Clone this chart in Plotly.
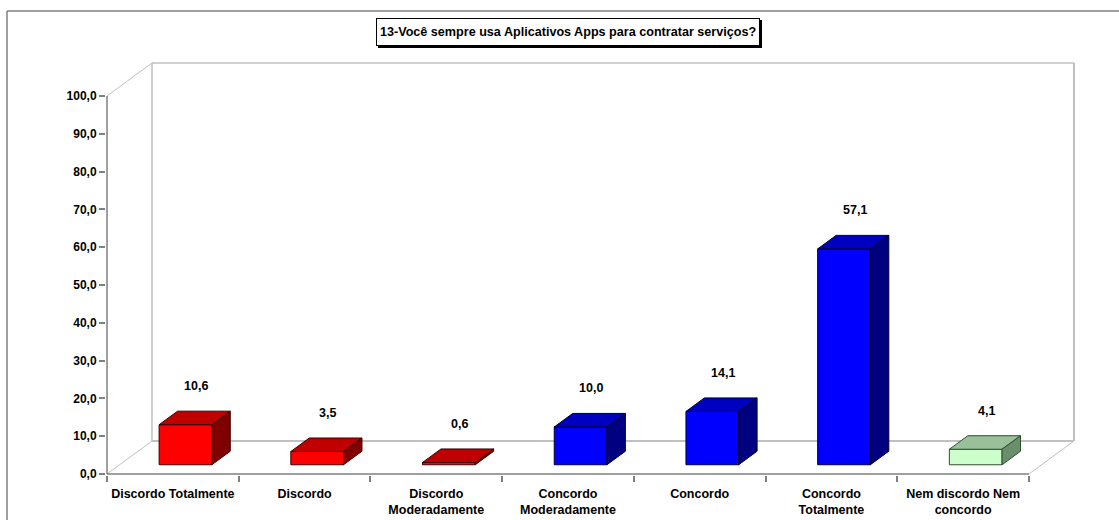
import plotly.graph_objects as go

# ---- data -------------------------------------------------------------
categories = [
    "Discordo Totalmente",
    "Discordo",
    "Discordo<br>Moderadamente",
    "Concordo<br>Moderadamente",
    "Concordo",
    "Concordo<br>Totalmente",
    "Nem discordo Nem<br>concordo",
]
values = [10.6, 3.5, 0.6, 10.0, 14.1, 57.1, 4.1]
groups = ["disc", "disc", "disc", "conc", "conc", "conc", "neutral"]
y_ticks = [0, 10, 20, 30, 40, 50, 60, 70, 80, 90, 100]
title_text = "13-Você sempre usa Aplicativos Apps para contratar serviços?"

# face colours: front, top, side
palette = {
    "disc": ("#FF0000", "#C00000", "#800000"),
    "conc": ("#0000FF", "#0000C0", "#000080"),
    "neutral": ("#CCFFCC", "#99C099", "#6A8F6A"),
}
edge_colors = {"disc": "#3a0000", "conc": "#000030", "neutral": "#2f4f2f"}

# ---- geometry (pixels -> data units) -----------------------------------
W, H = 1119, 520
X0_PX = 107            # pixel of x = -0.5
PX_PER_CAT = 131.71
Y0_PX = 474            # pixel of y = 0
PX_PER_UNIT = 3.78

ML, MR_PX = 106, 1078  # plot area left / right pixel
MT, MB_PX = 56, 475    # plot area top / bottom pixel

x_lo = -0.5 - (X0_PX - ML) / PX_PER_CAT
x_hi = -0.5 + (MR_PX - X0_PX) / PX_PER_CAT
y_lo = -(MB_PX - Y0_PX) / PX_PER_UNIT
y_hi = (Y0_PX - MT) / PX_PER_UNIT

DX = 45 / PX_PER_CAT   # depth offset of the back wall
DY = 33 / PX_PER_UNIT
Z0, Z1 = 0.28, 0.69    # bar front / back depth fraction
HALF = 0.2             # half bar width

PW = MR_PX - ML
PH = MB_PX - MT


def px_to_paper_x(px):
    return (px - ML) / PW


def px_to_paper_y(py):
    return (MB_PX - py) / PH


fig = go.Figure()

# ---- 3D bars -----------------------------------------------------------
label_x, label_y, label_txt = [], [], []
for i, (v, g) in enumerate(zip(values, groups)):
    front_c, top_c, side_c = palette[g]
    xl = i - HALF + Z0 * DX
    xr = i + HALF + Z0 * DX
    yb = Z0 * DY
    yt = yb + v
    ddx = (Z1 - Z0) * DX
    ddy = (Z1 - Z0) * DY
    faces = [
        ([xl, xr, xr, xl, xl], [yb, yb, yt, yt, yb], front_c),
        ([xl, xr, xr + ddx, xl + ddx, xl], [yt, yt, yt + ddy, yt + ddy, yt], top_c),
        ([xr, xr + ddx, xr + ddx, xr, xr], [yb, yb + ddy, yt + ddy, yt, yb], side_c),
    ]
    for fx, fy, col in faces:
        fig.add_trace(go.Scatter(
            x=fx, y=fy, mode="lines", fill="toself", fillcolor=col,
            line=dict(color=edge_colors[g], width=1),
            hoverinfo="skip", showlegend=False,
        ))
    label_x.append(i + (Z0 + Z1) / 2 * DX + 0.01)
    label_y.append(yt + ddy)
    label_txt.append(f"{v:.1f}".replace(".", ","))

# empty trace that binds the boundary-tick axis
fig.add_trace(go.Scatter(x=[None], y=[None], xaxis="x2", showlegend=False, hoverinfo="skip"))

annotations = []
for lx, ly, lt in zip(label_x, label_y, label_txt):
    annotations.append(dict(
        x=lx, y=ly, xref="x", yref="y", text=lt, showarrow=False,
        yanchor="middle", yshift=25,
        font=dict(family="Liberation Sans, Arial", size=12.5, color="#000000", weight="bold"),
    ))

# title box with drop shadow
tx, ty = px_to_paper_x(568), px_to_paper_y(32)
for shadow in (True, False):
    annotations.append(dict(
        x=tx, y=ty, xref="paper", yref="paper", text=title_text, showarrow=False,
        xanchor="center", yanchor="middle", height=20,
        xshift=2 if shadow else 0, yshift=-2 if shadow else 0,
        bgcolor="#000000" if shadow else "#FFFFFF",
        bordercolor="#000000", borderwidth=1, borderpad=3,
        font=dict(family="Liberation Sans, Arial", size=12.6,
                  color="#000000", weight="bold"),
    ))

# ---- frame: walls, floor and axes -----------------------------------
shapes = []
wall = "#C0C0C0"
axis_c = "#808080"


def seg(x0, y0, x1, y1, color, width=1):
    shapes.append(dict(type="line", xref="x", yref="y", x0=x0, y0=y0, x1=x1, y1=y1,
                       line=dict(color=color, width=width), layer="below"))


bx0, bx1 = -0.5 + DX, 6.5 + DX
seg(bx0, DY, bx0, 100 + DY, wall, 1.5)
seg(bx0, 100 + DY, bx1, 100 + DY, wall, 1.5)
seg(bx1, 100 + DY, bx1, DY, wall, 2)
seg(bx0, DY, bx1, DY, wall, 2)
seg(-0.5, 0, bx0, DY, wall, 1)
seg(-0.5, 100, bx0, 100 + DY, wall, 1)
seg(6.5, 0, bx1, DY, wall, 1)
seg(-0.5, 0, -0.5, 100, axis_c, 1.5)
seg(-0.5, 0, 6.5, 0, axis_c, 1.5)

# outer chart border (top and left edges)
shapes.append(dict(type="line", xref="paper", yref="paper",
                   x0=px_to_paper_x(7), y0=px_to_paper_y(11),
                   x1=px_to_paper_x(W + 5), y1=px_to_paper_y(11),
                   line=dict(color="#7F7F7F", width=1.5)))
shapes.append(dict(type="line", xref="paper", yref="paper",
                   x0=px_to_paper_x(7), y0=px_to_paper_y(11),
                   x1=px_to_paper_x(7), y1=px_to_paper_y(H + 5),
                   line=dict(color="#7F7F7F", width=1.5)))

y_tick_font = dict(family="Liberation Sans, Arial", size=12, color="#000000", weight="bold")
x_tick_font = dict(family="Liberation Sans, Arial", size=12.5, color="#000000", weight="bold")

fig.update_layout(
    width=W, height=H, autosize=False,
    margin=dict(l=ML, r=W - MR_PX, t=MT, b=H - MB_PX, pad=0, autoexpand=False),
    paper_bgcolor="#FFFFFF", plot_bgcolor="#FFFFFF",
    separators=",.",
    showlegend=False,
    xaxis=dict(
        range=[x_lo, x_hi], tickmode="array", tickvals=list(range(len(categories))),
        ticktext=categories, ticks="", showgrid=False, zeroline=False, showline=False,
        tickfont=x_tick_font, ticklabelstandoff=9, automargin=False, fixedrange=True,
    ),
    xaxis2=dict(
        range=[x_lo, x_hi], overlaying="x", anchor="y", side="bottom",
        tickmode="array", tickvals=[k - 0.5 for k in range(len(categories) + 1)],
        ticks="outside", ticklen=6, tickcolor=axis_c, tickwidth=1.5,
        showticklabels=False, showgrid=False, zeroline=False, showline=False,
        automargin=False,
    ),
    yaxis=dict(
        range=[y_lo, y_hi], tickmode="array", tickvals=y_ticks, tickformat=".1f",
        ticks="outside", ticklen=6, tickcolor=axis_c, tickwidth=1.5,
        showgrid=False, zeroline=False, showline=False, tickfont=y_tick_font,
        automargin=False, fixedrange=True,
    ),
    shapes=shapes,
    annotations=annotations,
)

fig.write_html("out.html")
